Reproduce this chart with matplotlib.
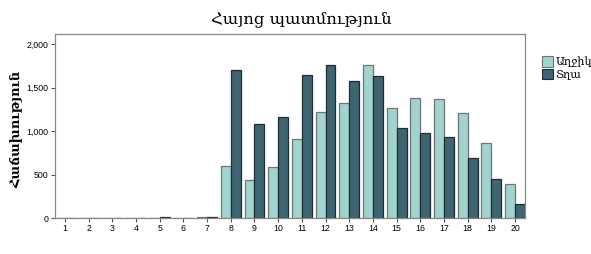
import matplotlib.pyplot as plt
import numpy as np

grades = list(range(1, 21))
girls = [2, 2, 3, 4, 5, 4, 10, 601, 437, 582, 904, 1214, 1318, 1754, 1260, 1383, 1364, 1203, 858, 394]
boys = [3, 2, 3, 5, 6, 5, 8, 1700, 1080, 1160, 1643, 1758, 1578, 1632, 1038, 980, 931, 686, 444, 161]
series_names = ['Աղջիկ', 'Տղա']
title = 'Հայոց պատմություն'
ylabel = 'Հաճախություն'

light = '#a3d3ce'
dark = '#3e6571'

fig = plt.figure(figsize=(5.91, 2.54), dpi=100)
ax = fig.add_axes([55 / 591, 36 / 254, 470 / 591, 184 / 254])

x = np.array(grades)
w = 0.42
ax.bar(x - w / 2, girls, w, color=light, edgecolor='#6b7775', linewidth=0.9, label=series_names[0])
ax.bar(x + w / 2, boys, w, color=dark, edgecolor='#1e2d33', linewidth=0.9, label=series_names[1])

ax.set_xlim(0.58, 20.42)
ax.set_ylim(0, 2115)
ax.set_xticks(x)
ax.set_xticklabels([str(g) for g in grades])
ax.set_yticks([0, 500, 1000, 1500, 2000])
ax.set_yticklabels(['0', '500', '1,000', '1,500', '2,000'])
ax.tick_params(labelsize=6.3, length=3, width=0.8, color='#555555', pad=1.5)
for lab in ax.get_xticklabels() + ax.get_yticklabels():
    lab.set_family('Liberation Sans')
for s in ax.spines.values():
    s.set_color('#888888')
    s.set_linewidth(0.9)

fig.text(0.51, 0.925, title, ha='center', va='center', family='DejaVu Serif', fontsize=11.8)
fig.text(0.027, 0.49, ylabel, ha='center', va='center', rotation=90,
         family='DejaVu Serif', fontsize=9.3, fontweight='bold')

leg = fig.legend(loc='upper left', bbox_to_anchor=(542 / 591, 1 - 56 / 254), frameon=False,
                 prop={'family': 'DejaVu Serif', 'size': 8}, handlelength=1.0, handleheight=1.1,
                 handletextpad=0.2, labelspacing=0.15, borderaxespad=0, borderpad=0)
for h in leg.legend_handles:
    h.set_linewidth(0.8)

fig.savefig('out.png', dpi=100)
